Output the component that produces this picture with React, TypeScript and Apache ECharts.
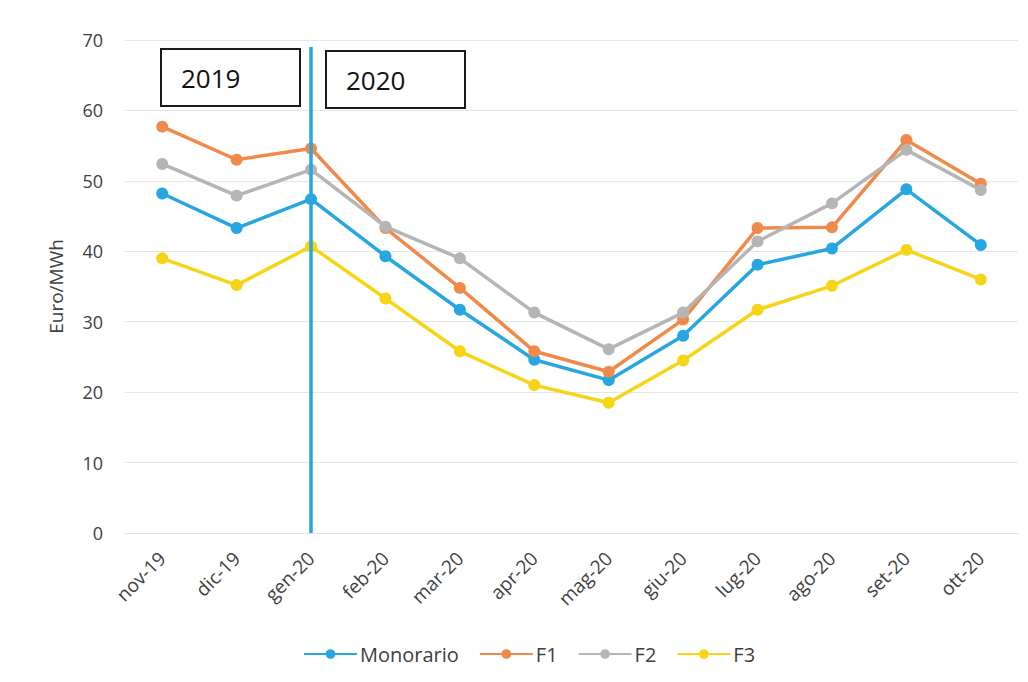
import React, { useEffect, useRef } from "react";
import * as echarts from "echarts";

const categories = ["nov-19", "dic-19", "gen-20", "feb-20", "mar-20", "apr-20", "mag-20", "giu-20", "lug-20", "ago-20", "set-20", "ott-20"];
const monorario = [48.2, 43.3, 47.4, 39.3, 31.7, 24.6, 21.7, 28.0, 38.1, 40.4, 48.8, 40.9];
const f1 = [57.7, 53.0, 54.6, 43.3, 34.8, 25.8, 22.9, 30.3, 43.3, 43.4, 55.8, 49.6];
const f2 = [52.4, 47.9, 51.6, 43.5, 39.0, 31.3, 26.1, 31.3, 41.4, 46.8, 54.4, 48.7];
const f3 = [39.0, 35.2, 40.7, 33.3, 25.8, 21.0, 18.5, 24.5, 31.7, 35.1, 40.2, 36.0];
const seriesNames = ["Monorario", "F1", "F2", "F3"];
const yTicks = { min: 0, max: 70, interval: 10 };
const dividerCategory = "gen-20";
const dividerTop = 69;
const yearLabels = ["2019", "2020"];

const colors = ["#27a6e2", "#f08a4b", "#b5b5b5", "#f5d516"];
const FONT = "'Open Sans', sans-serif";

export default function App() {
  const ref = useRef<HTMLDivElement>(null);
  useEffect(() => {
    if (!ref.current) return;
    const chart = echarts.init(ref.current, null, { renderer: "svg" });
    const data = [monorario, f1, f2, f3];
    const series: any[] = seriesNames.map((name, i) => ({
      name,
      type: "line",
      data: data[i],
      symbol: "circle",
      symbolSize: 12,
      lineStyle: { width: 3.5, color: colors[i] },
      itemStyle: { color: colors[i] },
      z: 3 + i,
    }));
    series[0].markLine = {
      silent: true,
      symbol: "none",
      label: { show: false },
      lineStyle: { color: colors[0], width: 3.5, type: "solid" },
      data: [[{ xAxis: dividerCategory, yAxis: yTicks.min }, { xAxis: dividerCategory, yAxis: dividerTop }]],
      z: 10,
    };
    chart.setOption({
      animation: false,
      backgroundColor: "#ffffff",
      textStyle: { fontFamily: FONT },
      grid: { left: 117, right: 2, top: 32, bottom: 141 },
      legend: {
        bottom: 5,
        left: 290,
        itemWidth: 53,
        itemHeight: 12,
        itemGap: 20,
        textStyle: { fontSize: 20, color: "#404040", fontFamily: FONT, padding: [0, 0, 0, -2] },
        data: seriesNames,
      },
      xAxis: {
        type: "category",
        data: categories,
        boundaryGap: true,
        axisLine: { show: true, lineStyle: { color: "#e3e3e3", width: 1 } },
        axisTick: { show: false },
        axisLabel: { rotate: 45, fontSize: 19, color: "#404040", margin: 22, fontFamily: FONT },
      },
      yAxis: {
        type: "value",
        min: yTicks.min,
        max: yTicks.max,
        interval: yTicks.interval,
        name: "Euro/MWh",
        nameLocation: "middle",
        nameRotate: 90,
        nameGap: 60,
        nameTextStyle: { fontSize: 19, color: "#404040", fontFamily: FONT },
        axisLine: { show: false },
        axisTick: { show: false },
        axisLabel: { fontSize: 18, color: "#404040", margin: 22, fontFamily: FONT },
        splitLine: { lineStyle: { color: "#e6e6e6", width: 1 } },
      },
      graphic: [
        {
          type: "group",
          left: 152,
          top: 40,
          children: [
            { type: "rect", shape: { x: 0, y: 0, width: 139, height: 57 }, style: { fill: "#fff", stroke: "#1a1a1a", lineWidth: 2 } },
            { type: "text", x: 20, y: 29, style: { text: yearLabels[0], font: `26px ${FONT}`, fill: "#111", verticalAlign: "middle" } },
          ],
          z: 20,
        },
        {
          type: "group",
          left: 317,
          top: 42,
          children: [
            { type: "rect", shape: { x: 0, y: 0, width: 139, height: 57 }, style: { fill: "#fff", stroke: "#1a1a1a", lineWidth: 2 } },
            { type: "text", x: 20, y: 29, style: { text: yearLabels[1], font: `26px ${FONT}`, fill: "#111", verticalAlign: "middle" } },
          ],
          z: 20,
        },
      ],
      series,
    });
    return () => chart.dispose();
  }, []);
  return <div ref={ref} style={{ width: 1012, height: 666 }} />;
}
